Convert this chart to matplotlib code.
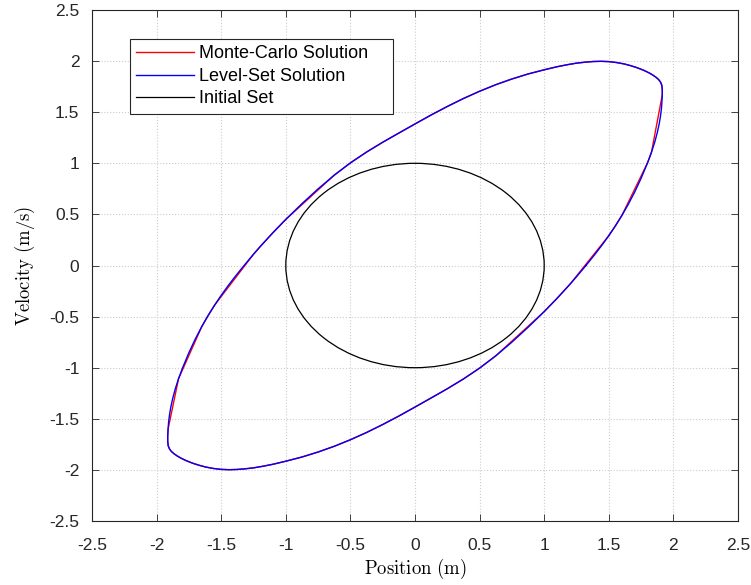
import matplotlib
matplotlib.use("Agg")
import matplotlib.pyplot as plt
from matplotlib.lines import Line2D
from matplotlib.patches import Ellipse
from matplotlib.ticker import FixedLocator, FuncFormatter

# level-set boundary (closed loop)
level_pos = [1.323, 1.35, 1.40, 1.45, 1.50, 1.55, 1.60, 1.65, 1.70, 1.75, 1.80, 1.83, 1.855,
             1.875, 1.89, 1.90, 1.907, 1.911, 1.914, 1.914, 1.91, 1.90, 1.885, 1.865, 1.84, 1.81,
             1.77, 1.72, 1.67, 1.62, 1.56, 1.50, 1.44, 1.38, 1.32, 1.25, 1.18, 1.10, 1.00, 0.875,
             0.75, 0.625, 0.50, 0.375, 0.25, 0.125, 0.0, -0.125, -0.25, -0.375, -0.50, -0.625,
             -0.75, -0.875, -1.0, -1.1, -1.2, -1.25, -1.30,
             -1.323, -1.35, -1.40, -1.45, -1.50, -1.55, -1.60, -1.65, -1.70, -1.75, -1.80, -1.83,
             -1.855, -1.875, -1.89, -1.90, -1.907, -1.911, -1.914, -1.914, -1.91, -1.90, -1.885,
             -1.865, -1.84, -1.81, -1.77, -1.72, -1.67, -1.62, -1.56, -1.50, -1.44, -1.38, -1.32,
             -1.25, -1.18, -1.10, -1.00, -0.875, -0.75, -0.625, -0.50, -0.375, -0.25, -0.125, 0.0,
             0.125, 0.25, 0.375, 0.50, 0.625, 0.75, 0.875, 1.0, 1.1, 1.2, 1.25, 1.30, 1.323]
level_vel = [0.0, 0.042, 0.121, 0.204, 0.292, 0.386, 0.487, 0.597, 0.718, 0.853, 1.005, 1.107, 1.205,
             1.299, 1.386, 1.461, 1.53, 1.60, 1.67, 1.72, 1.765, 1.795, 1.82, 1.842, 1.864, 1.886,
             1.91, 1.935, 1.955, 1.972, 1.986, 1.995, 1.998, 1.996, 1.99, 1.98, 1.965, 1.945, 1.915, 1.874,
             1.825, 1.769, 1.705, 1.634, 1.556, 1.473, 1.385, 1.296, 1.206, 1.110, 1.004, 0.884,
             0.750, 0.605, 0.451, 0.3205, 0.1825, 0.110, 0.035,
             0.0, -0.042, -0.121, -0.204, -0.292, -0.386, -0.487, -0.597, -0.718, -0.853, -1.005, -1.107,
             -1.205, -1.299, -1.386, -1.461, -1.53, -1.60, -1.67, -1.72, -1.765, -1.795, -1.82,
             -1.842, -1.864, -1.886, -1.91, -1.935, -1.955, -1.972, -1.986, -1.995, -1.998, -1.996, -1.99,
             -1.98, -1.965, -1.945, -1.915, -1.874, -1.825, -1.769, -1.705, -1.634, -1.556, -1.473, -1.385,
             -1.296, -1.206, -1.110, -1.004, -0.884, -0.750, -0.605, -0.451, -0.3205, -0.1825, -0.110,
             -0.035, 0.0]

# monte-carlo boundary (sample hull, sparse where the set is stretched)
mc_pos = [1.50, 1.55, 1.60, 1.80, 1.83, 1.914, 1.914, 1.91, 1.90, 1.885, 1.865, 1.84, 1.81,
          1.77, 1.72, 1.67, 1.62, 1.56, 1.50, 1.44, 1.38, 1.32, 1.25, 1.18, 1.10, 1.00, 0.875,
          0.75, 0.625, 0.50, 0.375, 0.25, 0.125, 0.0, -0.125, -0.25, -0.375, -0.50, -0.625,
          -1.0, -1.1, -1.2, -1.25,
          -1.55, -1.60, -1.65, -1.83, -1.911, -1.914, -1.914, -1.91, -1.90, -1.885, -1.865, -1.84,
          -1.81, -1.77, -1.72, -1.67, -1.62, -1.56, -1.50, -1.44, -1.38, -1.32, -1.25, -1.18,
          -1.10, -1.00, -0.875, -0.75, -0.625, -0.50, -0.375, -0.25, -0.125, 0.0, 0.125, 0.25,
          0.375, 0.50, 0.625, 1.0, 1.1, 1.2, 1.50]
mc_vel = [0.292, 0.386, 0.487, 1.005, 1.107, 1.67, 1.72, 1.765, 1.795, 1.82, 1.842, 1.864, 1.886,
          1.91, 1.935, 1.955, 1.972, 1.986, 1.995, 1.998, 1.996, 1.99, 1.98, 1.965, 1.945, 1.915, 1.874,
          1.825, 1.769, 1.705, 1.634, 1.556, 1.473, 1.385, 1.296, 1.206, 1.110, 1.004, 0.884,
          0.451, 0.3205, 0.1825, 0.110,
          -0.386, -0.487, -0.597, -1.107, -1.60, -1.67, -1.72, -1.765, -1.795, -1.82, -1.842, -1.864,
          -1.886, -1.91, -1.935, -1.955, -1.972, -1.986, -1.995, -1.998, -1.996, -1.99, -1.98, -1.965,
          -1.945, -1.915, -1.874, -1.825, -1.769, -1.705, -1.634, -1.556, -1.473, -1.385, -1.296, -1.206,
          -1.110, -1.004, -0.884, -0.451, -0.3205, -0.1825, 0.292]

# initial set: unit circle
init_center = (0.0, 0.0)
init_radius = 1.0

ticks = [-2.5, -2, -1.5, -1, -0.5, 0, 0.5, 1, 1.5, 2, 2.5]

plt.rcParams['font.family'] = ['Liberation Sans', 'DejaVu Sans']
plt.rcParams['mathtext.fontset'] = 'cm'
plt.rcParams['axes.unicode_minus'] = False

fig = plt.figure(figsize=(7.51, 5.85), dpi=100)
ax = fig.add_axes([0.1225, 0.1094, 0.8602, 0.8735])

ax.plot(mc_pos, mc_vel, color='red', lw=1.0)
ax.plot(level_pos, level_vel, color='blue', lw=1.0)
ax.add_patch(Ellipse(init_center, 2 * init_radius, 2 * init_radius,
                     fill=False, edgecolor='black', lw=0.9))

ax.set_xlim(-2.5, 2.5)
ax.set_ylim(-2.5, 2.5)
ax.xaxis.set_major_locator(FixedLocator(ticks))
ax.yaxis.set_major_locator(FixedLocator(ticks))
fmt = FuncFormatter(lambda v, p: '%g' % v)
ax.xaxis.set_major_formatter(fmt)
ax.yaxis.set_major_formatter(fmt)
ax.tick_params(direction='in', top=True, right=True, length=5, width=0.6,
               colors='0.15', labelsize=12.5)
ax.tick_params(axis='x', pad=12)
ax.tick_params(axis='y', pad=9)
for s in ax.spines.values():
    s.set_color('0.15')
    s.set_linewidth(0.8)
ax.grid(True, linestyle=':', color='0.8', lw=0.8)
ax.set_axisbelow(True)

ax.set_xlabel(r'$\mathrm{Position\ (m)}$', fontsize=13.5, labelpad=3)
ax.set_ylabel(r'$\mathrm{Velocity\ (m/s)}$', fontsize=13.5, labelpad=9)

handles = [Line2D([], [], color='red', lw=1.0),
           Line2D([], [], color='blue', lw=1.0),
           Line2D([], [], color='black', lw=0.9)]
labels = ['Monte-Carlo Solution', 'Level-Set Solution', 'Initial Set']
leg = ax.legend(handles, labels, loc='upper left',
                bbox_to_anchor=(0.0588, 0.798, 0.407, 0.145), mode='expand',
                borderaxespad=0, fontsize=13, handlelength=3.2, handletextpad=0.3,
                labelspacing=0.3, borderpad=0.35, fancybox=False, framealpha=1,
                edgecolor='0.15')
leg.get_frame().set_linewidth(0.8)

fig.savefig('out.png', dpi=100)
